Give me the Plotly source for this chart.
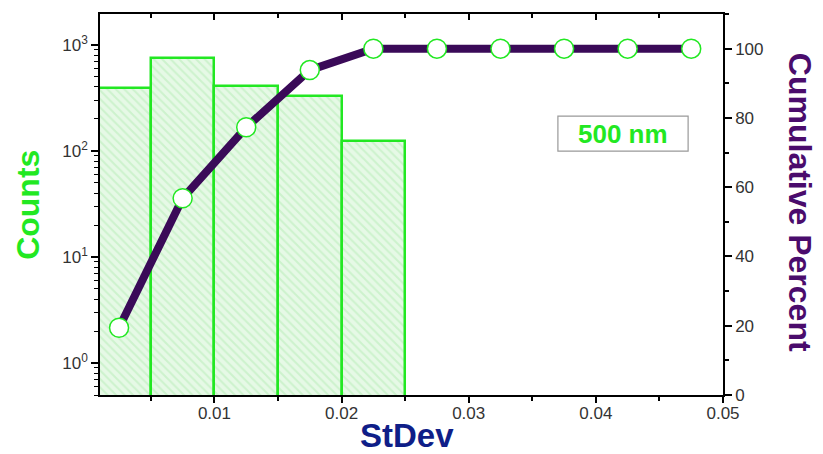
import plotly.graph_objects as go

# ---- data ----
bin_centers = [0.0025, 0.0075, 0.0125, 0.0175, 0.0225]
bin_width = 0.005
counts = [390, 753, 413, 331, 125]

cum_x = [0.0025, 0.0075, 0.0125, 0.0175, 0.0225, 0.0275, 0.0325, 0.0375, 0.0425, 0.0475]
cum_pct = [19.4, 56.8, 77.3, 93.8, 100, 100, 100, 100, 100, 100]

count_tickvals = [1, 10, 100, 1000]
count_ticktext = ["10<sup>0</sup>", "10<sup>1</sup>", "10<sup>2</sup>", "10<sup>3</sup>"]
pct_tickvals = [0, 20, 40, 60, 80, 100]
x_tickvals = [0.01, 0.02, 0.03, 0.04, 0.05]
x_ticktext = ["0.01", "0.02", "0.03", "0.04", "0.05"]

GREEN = "#22e822"
PURPLE = "#3a0a58"
NAVY = "#0f1e88"
FONT = "Arial, Liberation Sans, sans-serif"

fig = go.Figure()

fig.add_trace(go.Bar(
    x=bin_centers, y=counts, width=[bin_width] * len(counts),
    marker=dict(
        color="#e2f8e2",
        line=dict(color=GREEN, width=2.5),
        pattern=dict(shape="\\", fgcolor="#b4ecb4", bgcolor="#e6f9e6", size=6, solidity=0.35),
    ),
    xaxis="x", yaxis="y", showlegend=False,
))

fig.add_trace(go.Scatter(
    x=cum_x, y=cum_pct, mode="lines+markers",
    line=dict(color=PURPLE, width=8),
    marker=dict(symbol="circle", size=19, color="white", line=dict(color=GREEN, width=1.5)),
    xaxis="x", yaxis="y2", showlegend=False, cliponaxis=False,
))

axis_common = dict(showline=True, linecolor="black", linewidth=1.5, showgrid=False,
                   zeroline=False, tickcolor="black", automargin=False,
                   tickfont=dict(family=FONT, size=17, color="#333"))

fig.update_layout(
    width=823, height=454,
    margin=dict(l=100, r=100, t=14, b=59, autoexpand=False),
    paper_bgcolor="white", plot_bgcolor="white",
    bargap=0,
    xaxis=dict(range=[0.001, 0.05], tickvals=x_tickvals, ticktext=x_ticktext,
               ticks="outside", ticklen=6, tickwidth=1.5, ticklabelstandoff=-4,
               minor=dict(ticks="outside", ticklen=4, dtick=0.005, tick0=0, tickcolor="black", tickwidth=1.5),
               **axis_common),
    xaxis2=dict(range=[0.001, 0.05], overlaying="x", side="top", tickvals=x_tickvals,
                showticklabels=False, ticks="inside", ticklen=6, tickwidth=1.5,
                minor=dict(ticks="inside", ticklen=4, dtick=0.005, tick0=0, tickcolor="black", tickwidth=1.5),
                **axis_common),
    yaxis=dict(type="log", range=[-0.301, 3.29], tickvals=count_tickvals, ticktext=count_ticktext,
               ticks="outside", ticklen=7, tickwidth=1.5,
               minor=dict(ticks="outside", ticklen=4, dtick="D1", tickcolor="black", tickwidth=1),
               **axis_common),
    yaxis2=dict(range=[0, 110], overlaying="y", side="right", tickvals=pct_tickvals,
                ticks="outside", ticklen=7, tickwidth=1.5,
                minor=dict(ticks="outside", ticklen=4, dtick=10, tick0=0, tickcolor="black", tickwidth=1.5),
                **axis_common),
    shapes=[dict(type="rect", xref="paper", yref="paper", x0=0.735, x1=0.944, y0=0.640, y1=0.732,
                 line=dict(color="#999999", width=1.2), fillcolor="white", layer="above")],
    annotations=[
        dict(text="<b>500 nm</b>", xref="paper", yref="paper", x=0.8395, y=0.686,
             xanchor="center", yanchor="middle",
             showarrow=False, font=dict(family=FONT, size=26, color=GREEN)),
        dict(text="<b>Counts</b>", xref="paper", yref="paper", x=-0.1156, y=0.499,
             xanchor="center", yanchor="middle",
             textangle=-90, showarrow=False, font=dict(family=FONT, size=32, color=GREEN)),
        dict(text="<b>Cumulative Percent</b>", xref="paper", yref="paper", x=1.1236, y=0.507,
             xanchor="center", yanchor="middle",
             textangle=90, showarrow=False, font=dict(family=FONT, size=32, color="#4a0c6c")),
        dict(text="<b>StDev</b>", xref="paper", yref="paper", x=0.4928, y=-0.105,
             xanchor="center", yanchor="middle", borderpad=0,
             showarrow=False, font=dict(family=FONT, size=33, color=NAVY)),
    ],
)

# invisible trace to activate the top axis
fig.add_trace(go.Scatter(x=[0.01], y=[1], xaxis="x2", yaxis="y", mode="markers",
                         marker=dict(opacity=0), showlegend=False, hoverinfo="skip"))

fig.write_html("out.html", config={"displayModeBar": False},
               post_script="document.body.style.margin='0';document.body.style.padding='0';")
